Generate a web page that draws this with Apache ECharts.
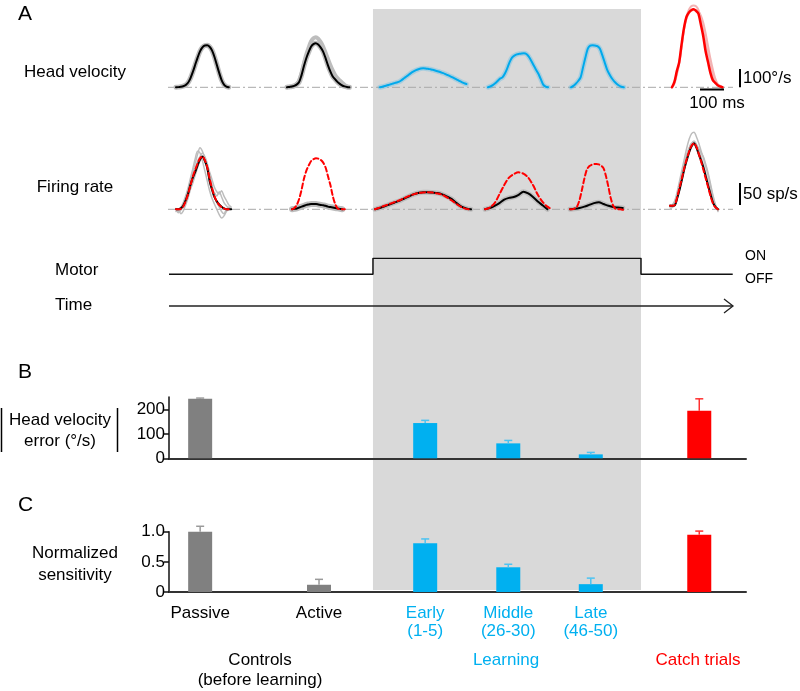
<!DOCTYPE html>
<html><head><meta charset="utf-8">
<script src="https://cdn.jsdelivr.net/npm/echarts@6/dist/echarts.min.js"></script>
<style>html,body{margin:0;padding:0;background:#fff}#c{width:800px;height:691px}</style>
</head><body><div id="c"></div>
<script>
const FONT = '"Liberation Sans", Arial, sans-serif';

// ---------- Panel B / C data ----------
const categories = ['Passive', 'Active', 'Early\n(1-5)', 'Middle\n(26-30)', 'Late\n(46-50)', 'Catch'];
const catPos = [0.54, 2.6, 4.44, 5.88, 7.31, 9.19];          // position on the phase axis (0..10)
const catGroup = ['ctrl', 'ctrl', 'learn', 'learn', 'learn', 'catch'];
const hvError = [243, null, 144, 61, 16, 194];               // °/s
const hvErrorTop = [246, null, 155, 73, 24, 243];            // mean + s.e.m.
const sensitivity = [1.0, 0.12, 0.81, 0.41, 0.13, 0.95];
const sensitivityTop = [1.09, 0.21, 0.88, 0.46, 0.23, 1.01];
const ticksB = [0, 100, 200];
const ticksC = [0, 0.5, 1.0];
const learnSpan = [3.535, 8.18];
const timelineEnd = 9.77;
const motorX = [0, learnSpan[0], learnSpan[0], learnSpan[1], learnSpan[1], timelineEnd];
const motorState = [0, 0, 1, 1, 0, 0];

// ---------- Panel A traces (head velocity °/s, firing rate sp/s) ----------
const hvPassive = [0,1,3,6,12,25,50,85,125,165,200,222,232,233,225,205,170,125,80,40,15,4,0];
const hvActive = [0,2,4,8,15,28,65,115,160,195,225,240,245,238,222,200,165,125,90,62,45,30,19,10,5,2,0];
const hvActiveTrial = [0,2,4,8,18,35,75,130,180,220,255,272,278,270,252,228,195,160,125,95,70,52,38,25,14,6,0];
const hvEarly = [0,3,7,11,15,19,23,27,31,40,50,60,70,80,88,95,100,104,106,105,103,100,97,93,89,85,80,75,69,63,57,50,43,36,29,23,18];
const hvMiddle = [0,5,12,22,35,48,55,75,105,140,165,176,183,186,188,189,185,170,148,122,98,75,45,15,4,0];
const hvLate = [0,8,20,35,55,110,165,215,232,234,232,229,215,180,140,100,72,50,33,20,10,3,0];
const hvCatch = [0,30,90,140,240,330,390,415,428,433,425,410,350,285,200,140,80,40,25,12,5,0];
const hvCatchTrial1 = [0,20,70,130,220,320,390,430,450,455,450,430,380,320,250,180,120,70,35,15,5,0];
const hvCatchTrial2 = [0,25,80,135,230,320,380,410,425,430,428,420,400,360,300,230,160,100,50,20,8,0];

const frPassive = [0,0,2,8,20,35,55,72,85,100,113,120,110,95,65,45,28,18,11,6,2,0,0,0];
const frPassivePred = [0,0,1,6,18,34,54,74,90,104,116,120,112,96,70,48,30,18,10,5,2,0,0,0];
const frPassiveTrial1 = [0,-5,3,10,22,40,62,85,105,125,140,132,115,90,62,45,38,30,40,28,15,8,3,0];
const frPassiveTrial2 = [2,-8,-2,5,15,30,50,70,92,110,120,128,120,105,80,55,30,15,5,-5,-10,0,5,0];
const frPassiveTrial3 = [0,0,-10,-4,10,25,45,60,78,95,110,118,112,100,85,68,50,40,35,42,30,20,10,5];
const frPassiveTrial4 = [-5,0,5,15,30,48,70,92,115,132,128,110,88,65,42,25,12,0,-12,-20,-15,-5,0,0];
const frActive = [0,1,2,4,6,8,10,11,12,12,12,11,10,9,8,6,5,4,3,2,1,0];
const frActivePred = [0,3,10,24,45,70,88,100,110,114,116,115,112,106,95,75,55,30,12,2,0,0,0];
const frEarly = [0,3,7,11,15,19,24,29,34,37,39,39,38,37,34,29,23,14,6,2,0];
const frEarlyPred = [0,4,8,12,16,20,25,30,34,37,38,39,38,36,33,27,20,12,5,1,0];
const frMiddle = [0,3,8,14,22,26,28,33,40,36,28,18,9,0];
const frMiddlePred = [0,4,14,34,55,72,80,84,81,72,55,33,17,6,0];
const frLate = [0,1,3,6,10,14,16,12,8,5,4,3];
const frLatePred = [0,0,2,7,22,45,70,90,98,101,103,103,102,99,93,75,51,25,8,1,0,0,-1,-1];
const frCatch = [8,8,9,25,45,68,92,112,130,143,150,140,125,110,93,72,51,32,14,5,0];
const frCatchPred = [8,8,10,28,50,72,95,115,132,145,150,142,126,108,88,68,48,28,12,4,0];
const frCatchTrial1 = [5,10,20,40,65,90,115,140,160,172,175,165,150,132,115,95,75,50,25,8,0];
const frCatchTrial2 = [0,5,15,35,55,80,105,125,140,150,150,145,138,128,118,100,80,55,30,10,-5];
const frCatchTrial3 = [10,5,10,25,45,70,95,120,138,150,155,148,135,118,100,80,60,38,18,5,0];

// ---------- styles ----------
const BLACK = '#000', RED = '#ff0000', BLUE = '#00a9ec', GRAYT = '#bdbdbd';
const groupColor = {ctrl: '#808080', learn: '#00b0f0', catch: '#ff0000'};
const errColor = {ctrl: '#9a9a9a', learn: '#4cc3f2', catch: '#ff3030'};
const labelColor = {ctrl: '#000', learn: '#00b0f0', catch: '#ff0000'};

const pxPerMs = 0.24;
const rows = {
  hv: {baseline: 87.3, pxPerUnit: 0.18, min: -30, max: 470},
  fr: {baseline: 209.3, pxPerUnit: 0.44, min: -30, max: 190}
};
const band = c => ({color: c, width: 5});
const traces = [
  {row: 'hv', left: 176, lines: [
    {d: hvPassive, dt: 10, c: GRAYT, w: 5}, {d: hvPassive, dt: 10, c: BLACK, w: 2}]},
  {row: 'hv', left: 287, lines: [
    {d: hvActiveTrial, dt: 10, c: GRAYT, w: 4}, {d: hvActive, dt: 10, c: GRAYT, w: 5}, {d: hvActive, dt: 10, c: BLACK, w: 2}]},
  {row: 'hv', left: 380, lines: [
    {d: hvEarly, dt: 10, c: 'rgba(0,170,240,0.22)', w: 5}, {d: hvEarly, dt: 10, c: BLUE, w: 2}]},
  {row: 'hv', left: 488, lines: [
    {d: hvMiddle, dt: 10, c: 'rgba(0,170,240,0.22)', w: 5}, {d: hvMiddle, dt: 10, c: BLUE, w: 2}]},
  {row: 'hv', left: 571, lines: [
    {d: hvLate, dt: 10, c: 'rgba(0,170,240,0.22)', w: 5}, {d: hvLate, dt: 10, c: BLUE, w: 2}]},
  {row: 'hv', left: 672, lines: [
    {d: hvCatchTrial1, dt: 10, c: '#f3b3b3', w: 2}, {d: hvCatchTrial2, dt: 10, c: '#f3b3b3', w: 2}, {d: hvCatch, dt: 10, c: RED, w: 2.5}]},
  {row: 'fr', left: 176, lines: [
    {d: frPassiveTrial1, dt: 10, c: GRAYT, w: 1.5}, {d: frPassiveTrial2, dt: 10, c: GRAYT, w: 1.5},
    {d: frPassiveTrial3, dt: 10, c: GRAYT, w: 1.5}, {d: frPassiveTrial4, dt: 10, c: GRAYT, w: 1.5},
    {d: frPassive, dt: 10, c: BLACK, w: 2}, {d: frPassivePred, dt: 10, c: RED, w: 2, dash: true}]},
  {row: 'fr', left: 292, lines: [
    {d: frActive, dt: 10, c: GRAYT, w: 6}, {d: frActive, dt: 10, c: BLACK, w: 2}, {d: frActivePred, dt: 10, c: RED, w: 2, dash: true}]},
  {row: 'fr', left: 375, lines: [
    {d: frEarly, dt: 20, c: GRAYT, w: 5}, {d: frEarly, dt: 20, c: BLACK, w: 2}, {d: frEarlyPred, dt: 20, c: RED, w: 2, dash: true}]},
  {row: 'fr', left: 485, lines: [
    {d: frMiddle, dt: 20, c: GRAYT, w: 5}, {d: frMiddle, dt: 20, c: BLACK, w: 2}, {d: frMiddlePred, dt: 20, c: RED, w: 2, dash: true}]},
  {row: 'fr', left: 570, lines: [
    {d: frLate, dt: 20, c: GRAYT, w: 5}, {d: frLate, dt: 20, c: BLACK, w: 2}, {d: frLatePred, dt: 10, c: RED, w: 2, dash: true}]},
  {row: 'fr', left: 670, lines: [
    {d: frCatchTrial1, dt: 10, c: GRAYT, w: 1.5}, {d: frCatchTrial2, dt: 10, c: GRAYT, w: 1.5}, {d: frCatchTrial3, dt: 10, c: GRAYT, w: 1.5},
    {d: frCatch, dt: 10, c: BLACK, w: 2}, {d: frCatchPred, dt: 10, c: RED, w: 2, dash: true}]}
];

const grid = [], xAxis = [], yAxis = [], series = [];
function addGrid(g, xa, ya) { grid.push(g); xAxis.push(Object.assign({gridIndex: grid.length - 1}, xa)); yAxis.push(Object.assign({gridIndex: grid.length - 1}, ya)); return grid.length - 1; }
const hidden = {show: false};

// background (learning period shading)
const PHASE_LEFT = 169, PHASE_RIGHT = 800 - 746;
const gBg = addGrid({left: PHASE_LEFT, right: PHASE_RIGHT, top: 9, height: 581},
  {type: 'value', min: 0, max: 10, show: false}, {type: 'value', min: 0, max: 1, show: false});
series.push({type: 'custom', xAxisIndex: gBg, yAxisIndex: gBg, z: 0, silent: true, clip: false,
  data: [[learnSpan[0], learnSpan[1]]], encode: {x: [0, 1]},
  renderItem: (p, api) => { const a = api.coord([api.value(0), 1]); const b = api.coord([api.value(1), 0]);
    return {type: 'rect', shape: {x: a[0], y: a[1], width: b[0] - a[0], height: b[1] - a[1]}, style: {fill: '#d9d9d9'}}; }});

// traces
traces.forEach(t => {
  const r = rows[t.row];
  const dur = Math.max(...t.lines.map(l => (l.d.length - 1) * l.dt));
  const gi = addGrid({left: t.left, width: dur * pxPerMs, top: r.baseline - r.max * r.pxPerUnit, height: (r.max - r.min) * r.pxPerUnit},
    {type: 'value', min: 0, max: dur, show: false}, {type: 'value', min: r.min, max: r.max, show: false});
  t.lines.forEach(l => series.push({type: 'line', xAxisIndex: gi, yAxisIndex: gi, z: 3, silent: true, symbol: 'none', smooth: 0.3,
    data: l.d.map((v, i) => [i * l.dt, v]),
    lineStyle: {color: l.c, width: l.w, type: l.dash ? [5, 3] : 'solid', cap: 'round', join: 'round'}}));
});

// motor schematic
const gMotor = addGrid({left: PHASE_LEFT, right: PHASE_RIGHT, top: 258.3, height: 16},
  {type: 'value', min: 0, max: 10, show: false}, {type: 'value', min: 0, max: 1, show: false});
series.push({type: 'line', xAxisIndex: gMotor, yAxisIndex: gMotor, z: 3, symbol: 'none', silent: true,
  data: motorX.map((x, i) => [x, motorState[i]]), lineStyle: {color: '#111', width: 1.5}});

// bar panels
const axisBase = {type: 'value', axisLine: {show: true, lineStyle: {color: '#111', width: 1.5}}, splitLine: {show: false}};
function barPanel(top, height, yMax, ticks, vals, tops, fmt, showCatLabels) {
  const gi = addGrid({left: PHASE_LEFT, right: PHASE_RIGHT, top: top, height: height},
    {type: 'value', min: 0, max: 10, axisLine: {show: true, onZero: false, lineStyle: {color: '#333', width: 2}},
     axisTick: {show: false}, splitLine: {show: false},
     axisLabel: showCatLabels ? {show: true, customValues: catPos.slice(0, 5), margin: 12, lineHeight: 18,
       formatter: v => { const i = catPos.findIndex(p => Math.abs(p - v) < 1e-6); if (i < 0) return '';
         return categories[i].split('\n').map(s => '{' + catGroup[i] + '|' + s + '}').join('\n'); },
       rich: {ctrl: {color: labelColor.ctrl, fontSize: 17, fontFamily: FONT, lineHeight: 18},
              learn: {color: labelColor.learn, fontSize: 17, fontFamily: FONT, lineHeight: 18},
              catch: {color: labelColor.catch, fontSize: 17, fontFamily: FONT, lineHeight: 18}}} : {show: false}},
    Object.assign({}, axisBase, {min: 0, max: yMax,
      axisTick: {show: true, length: 5, customValues: ticks, lineStyle: {color: '#111', width: 1.5}},
      axisLabel: {show: true, customValues: ticks, formatter: fmt, color: '#000', fontSize: 17, fontFamily: FONT, margin: 4}}));
  const bars = [];
  catPos.forEach((x, i) => { if (vals[i] != null) bars.push({value: [x, vals[i]], itemStyle: {color: groupColor[catGroup[i]]}}); });
  series.push({type: 'bar', xAxisIndex: gi, yAxisIndex: gi, z: 3, barWidth: 24, silent: true, data: bars});
  const errs = [];
  catPos.forEach((x, i) => { if (vals[i] != null) errs.push([x, vals[i], tops[i], i]); });
  series.push({type: 'custom', xAxisIndex: gi, yAxisIndex: gi, z: 4, silent: true, clip: false, data: errs, encode: {x: 0, y: [1, 2]},
    renderItem: (p, api) => { const b = api.coord([api.value(0), api.value(1)]); const tp = api.coord([api.value(0), api.value(2)]);
      const col = errColor[catGroup[api.value(3)]];
      return {type: 'group', children: [
        {type: 'line', shape: {x1: b[0], y1: b[1], x2: tp[0], y2: tp[1]}, style: {stroke: col, lineWidth: 1.5}},
        {type: 'line', shape: {x1: tp[0] - 4, y1: tp[1], x2: tp[0] + 4, y2: tp[1]}, style: {stroke: col, lineWidth: 1.5}}]}; }});
}
barPanel(397.1, 61.2, 250, ticksB, hvError, hvErrorTop, v => String(v), false);
barPanel(531.7, 60.3, 1.0, ticksC, sensitivity, sensitivityTop, v => v === 0 ? '0' : v.toFixed(1), true);

// decorations and texts
const txt = (text, x, y, o) => Object.assign({type: 'text', x: x, y: y, z: 10,
  style: Object.assign({text: text, font: '17px ' + FONT, fill: '#000', textAlign: 'center', textVerticalAlign: 'middle'}, (o || {}))});
const ln = (x1, y1, x2, y2, o) => ({type: 'line', z: 10, shape: {x1, y1, x2, y2}, style: Object.assign({stroke: '#000', lineWidth: 1.5}, o || {})});
const dashDot = {stroke: '#a8a8a8', lineWidth: 1, lineDash: [8, 3, 2, 3]};
const graphic = [
  Object.assign(ln(168, rows.hv.baseline, 733, rows.hv.baseline, dashDot), {z: 1}),
  Object.assign(ln(168, rows.fr.baseline, 733, rows.fr.baseline, dashDot), {z: 1}),
  txt('A', 18, 14, {font: '21px ' + FONT, textAlign: 'left'}),
  txt('B', 18, 372, {font: '21px ' + FONT, textAlign: 'left'}),
  txt('C', 18, 505, {font: '21px ' + FONT, textAlign: 'left'}),
  txt('Head velocity', 75, 72), txt('Firing rate', 75, 187),
  txt('Motor', 55, 270, {textAlign: 'left'}), txt('Time', 55, 305, {textAlign: 'left'}),
  txt('ON', 745, 256, {font: '14px ' + FONT, textAlign: 'left'}), txt('OFF', 745, 279, {font: '14px ' + FONT, textAlign: 'left'}),
  ln(740, 69, 740, 87.3, {lineWidth: 2}), txt('100°/s', 743, 78, {textAlign: 'left'}),
  ln(700, 89.5, 724, 89.5, {lineWidth: 2}), txt('100 ms', 717, 103),
  ln(740, 183, 740, 205, {lineWidth: 2}), txt('50 sp/s', 743, 194, {textAlign: 'left'}),
  ln(169, 306, 733, 306, {stroke: '#222', lineWidth: 1.3}),
  {type: 'polyline', z: 10, shape: {points: [[724, 299], [733, 306], [724, 313]]}, style: {stroke: '#222', lineWidth: 1.3, fill: null}},
  ln(1.5, 408, 1.5, 452), ln(117.5, 408, 117.5, 452),
  txt('Head velocity', 60, 420), txt('error (°/s)', 60, 441),
  txt('Normalized', 75, 553), txt('sensitivity', 75, 575),
  txt('Controls', 260, 660), txt('(before learning)', 260, 680),
  txt('Learning', 506, 660, {fill: labelColor.learn}), txt('Catch trials', 698, 660, {fill: labelColor.catch})
];

const chart = echarts.init(document.getElementById('c'), null, {renderer: 'canvas'});
chart.setOption({animation: false, backgroundColor: '#fff', grid, xAxis, yAxis, series, graphic});
</script></body></html>
